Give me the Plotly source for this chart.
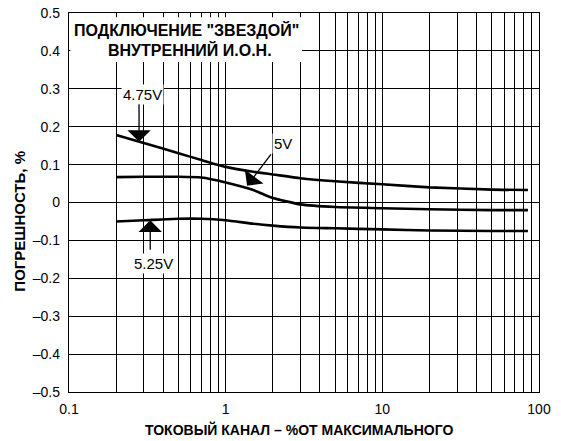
import math
import plotly.graph_objects as go

# Current channel, % of full scale
current_pct = [0.2, 0.3, 0.5, 0.7, 1, 1.5, 2, 3, 5, 10, 20, 50, 85]

# Error, % for each supply voltage
err_475 = [0.178, 0.157, 0.130, 0.112, 0.094, 0.081, 0.074, 0.064, 0.056, 0.048, 0.040, 0.034, 0.033]
err_500 = [0.067, 0.068, 0.068, 0.066, 0.053, 0.033, 0.012, -0.005, -0.012, -0.015, -0.018, -0.020, -0.020]
err_525 = [-0.050, -0.047, -0.043, -0.043, -0.047, -0.056, -0.061, -0.066, -0.068, -0.071, -0.074, -0.075, -0.075]

x_ticks = [0.1, 1, 10, 100]
x_minor = [m * d for d in (0.1, 1, 10) for m in range(2, 10)]
y_ticks = [0.5, 0.4, 0.3, 0.2, 0.1, 0, -0.1, -0.2, -0.3, -0.4, -0.5]

FONT = "Liberation Sans, Arial, sans-serif"
lg = math.log10  # annotation positions on a log axis are given in decades

fig = go.Figure()
for ys in (err_475, err_500, err_525):
    fig.add_trace(go.Scatter(x=current_pct, y=ys, mode="lines",
                             line=dict(color="black", width=2.6, shape="spline", smoothing=0.5),
                             showlegend=False, hoverinfo="skip"))

fig.update_xaxes(type="log", range=[-1, 2], tickvals=x_ticks,
                 ticktext=["0.1", "1", "10", "100"], automargin=False,
                 showgrid=True, gridcolor="black", gridwidth=1,
                 minor=dict(tickvals=x_minor, showgrid=True, gridcolor="black", gridwidth=1, ticks=""),
                 showline=True, linecolor="black", linewidth=1.3, mirror=True,
                 ticks="", zeroline=False, ticklabelstandoff=4,
                 tickfont=dict(family=FONT, size=14, color="black"))
fig.update_yaxes(range=[-0.5, 0.5], tickvals=y_ticks, automargin=False,
                 ticktext=[("%g" % v).replace("-", "–") for v in y_ticks],
                 showgrid=True, gridcolor="black", gridwidth=1,
                 showline=True, linecolor="black", linewidth=1.3, mirror=True,
                 ticks="", zeroline=False, ticklabelstandoff=5,
                 tickfont=dict(family=FONT, size=14, color="black"))

# axis titles
fig.add_annotation(xref="paper", yref="paper", x=0.49, y=-0.099, yanchor="middle",
                   showarrow=False, text="<b>ТОКОВЫЙ КАНАЛ – %ОТ МАКСИМАЛЬНОГО</b>",
                   font=dict(family=FONT, size=14, color="black"))
fig.add_annotation(xref="paper", yref="paper", x=-0.106, y=0.45, xanchor="center",
                   textangle=-90, showarrow=False, text="<b>ПОГРЕШНОСТЬ, %</b>",
                   font=dict(family=FONT, size=15, color="black"))

# white panel behind the heading text
fig.add_shape(type="rect", xref="paper", yref="paper", x0=0.003, x1=0.496, y0=0.871, y1=0.989,
              fillcolor="white", line=dict(width=0), layer="above")

head_font = dict(family=FONT, size=16, color="black")
fig.add_annotation(xref="x", yref="y", x=-0.247, y=0.455, showarrow=False,
                   text="<b>ПОДКЛЮЧЕНИЕ \"ЗВЕЗДОЙ\"</b>", font=head_font)
fig.add_annotation(xref="x", yref="y", x=-0.228, y=0.402, showarrow=False,
                   text="<b>ВНУТРЕННИЙ И.О.Н.</b>", font=head_font)

# curve labels
label_font = dict(family=FONT, size=15, color="black")
for txt, xv, yv in (("4.75V", 0.296, 0.284), ("5V", 2.32, 0.157), ("5.25V", 0.344, -0.162)):
    fig.add_annotation(xref="x", yref="y", x=lg(xv), y=yv, showarrow=False,
                       text=txt, font=label_font, bgcolor="white", borderpad=1)

# pointer arrows to each curve
for xv, yv, ax, ay in ((0.28, 0.16, 0, -39), (1.37, 0.044, 25, -33), (0.33, -0.047, 0, 31)):
    fig.add_annotation(xref="x", yref="y", x=lg(xv), y=yv, text="",
                       showarrow=True, arrowhead=1, arrowsize=3, arrowwidth=1.3,
                       arrowcolor="black", ax=ax, ay=ay)

fig.update_layout(width=561, height=441, margin=dict(l=69, r=22, t=13, b=49),
                  paper_bgcolor="white", plot_bgcolor="white",
                  font=dict(family=FONT, color="black"))

fig.write_html("out.html")
